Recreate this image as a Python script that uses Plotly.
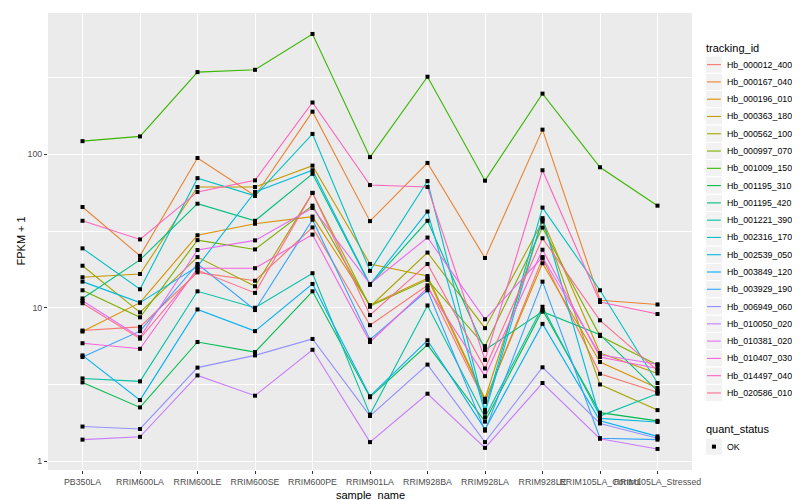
import plotly.graph_objects as go

samples = ["PB350LA", "RRIM600LA", "RRIM600LE", "RRIM600SE", "RRIM600PE", "RRIM901LA",
           "RRIM928BA", "RRIM928LA", "RRIM928LE", "RRIM105LA_Control", "RRIM105LA_Stressed"]

tracking_ids = ["Hb_000012_400", "Hb_000167_040", "Hb_000196_010", "Hb_000363_180", "Hb_000562_100",
                "Hb_000997_070", "Hb_001009_150", "Hb_001195_310", "Hb_001195_420", "Hb_001221_390",
                "Hb_002316_170", "Hb_002539_050", "Hb_003849_120", "Hb_003929_190", "Hb_006949_060",
                "Hb_010050_020", "Hb_010381_020", "Hb_010407_030", "Hb_014497_040", "Hb_020586_010"]

colors = ["#F8766D", "#EA8331", "#D89000", "#C09B00", "#A3A500", "#7CAE00", "#39B600", "#00BB4E",
          "#00BF7D", "#00C1A3", "#00BFC4", "#00BAE0", "#00B0F6", "#35A2FF", "#9590FF", "#C77CFF",
          "#E76BF3", "#FA62DB", "#FF62BC", "#FF6C90"]

# FPKM + 1 values per gene, one per sample
hb_000012_400 = [7.1, 7.5, 17.0, 15.0, 33.4, 7.7, 14.0, 2.43, 21.0, 3.71, 2.81]
hb_000167_040 = [45.4, 21.8, 94.7, 53.7, 190, 36.7, 88, 21.1, 145, 11.2, 10.5]
hb_000196_010 = [7.0, 10.8, 29.7, 35.3, 39.3, 10.4, 15.6, 2.49, 19.5, 4.43, 3.0]
hb_000363_180 = [15.8, 16.6, 61.3, 61.3, 84.5, 19.3, 16.1, 2.55, 37.5, 5.07, 3.73]
hb_000562_100 = [18.8, 9.33, 21.4, 13.8, 56.1, 10.15, 22.9, 7.36, 36.5, 3.16, 2.15]
hb_000997_070 = [13.0, 8.66, 27.6, 24.0, 46.3, 10.25, 15.2, 5.62, 33.3, 6.54, 4.24]
hb_001009_150 = [122, 131, 344, 356, 610, 96, 321, 67.4, 249, 82.4, 46.3]
hb_001195_310 = [3.26, 2.24, 5.98, 5.14, 12.8, 2.61, 5.73, 1.81, 9.66, 2.07, 1.83]
hb_001195_420 = [11.5, 20.5, 47.7, 36.9, 74.7, 14.1, 36.9, 5.30, 9.43, 6.67, 2.87]
hb_001221_390 = [3.46, 3.31, 12.8, 10.0, 16.8, 2.01, 10.35, 1.93, 10.15, 1.97, 2.75]
hb_002316_170 = [24.4, 13.2, 70, 53.7, 136, 17.4, 67, 2.15, 45, 13.0, 3.23]
hb_002539_050 = [14.8, 10.8, 18.6, 56.9, 78.8, 14.2, 42.4, 2.07, 38.4, 1.90, 1.80]
hb_003849_120 = [4.89, 2.50, 9.75, 7.04, 14.3, 2.65, 6.14, 1.61, 7.85, 1.83, 1.45]
hb_003929_190 = [4.77, 7.04, 19.3, 9.66, 37.5, 6.19, 13.0, 1.58, 14.8, 1.41, 1.38]
hb_006949_060 = [1.68, 1.62, 4.07, 4.89, 6.26, 1.97, 4.26, 1.33, 4.09, 1.76, 1.41]
hb_010050_020 = [1.38, 1.44, 3.62, 2.67, 5.32, 1.33, 2.75, 1.22, 3.23, 1.40, 1.20]
hb_010381_020 = [11.1, 6.42, 23.8, 27.5, 44.7, 14.3, 28.7, 8.41, 21.4, 4.94, 4.28]
hb_010407_030 = [5.87, 5.40, 18.1, 18.1, 30, 5.98, 13.5, 3.58, 23.9, 4.77, 4.02]
hb_014497_040 = [36.9, 27.9, 56.9, 67.7, 218, 63.1, 61.3, 4.57, 78.8, 10.9, 9.1]
hb_020586_010 = [10.7, 6.29, 17.6, 12.5, 56.1, 8.96, 19.3, 4.02, 28.4, 8.28, 3.9]

series_values = [hb_000012_400, hb_000167_040, hb_000196_010, hb_000363_180, hb_000562_100,
                 hb_000997_070, hb_001009_150, hb_001195_310, hb_001195_420, hb_001221_390,
                 hb_002316_170, hb_002539_050, hb_003849_120, hb_003929_190, hb_006949_060,
                 hb_010050_020, hb_010381_020, hb_010407_030, hb_014497_040, hb_020586_010]

quant_status = ["OK"]

y_ticks = [1, 10, 100]
y_tick_labels = ["1", "10", "100"]

FONT = "Liberation Sans, Arial, sans-serif"
W, H = 800, 500
ML, MR, MT, MB = 40, 116, 5, 38
PW, PH = W - ML - MR, H - MT - MB


def px(x):
    return (x - ML) / PW


def py(y):
    return (H - MB - y) / PH


fig = go.Figure()
for name, col, vals in zip(tracking_ids, colors, series_values):
    fig.add_trace(go.Scatter(x=samples, y=vals, mode="lines", name=name,
                             line=dict(color=col, width=1.1), showlegend=False))

all_x, all_y = [], []
for vals in series_values:
    all_x.extend(samples)
    all_y.extend(vals)
fig.add_trace(go.Scatter(x=all_x, y=all_y, mode="markers", name=quant_status[0],
                         marker=dict(symbol="square", size=4, color="black"),
                         showlegend=False))

# ---- manual ggplot-style legends ----
shapes, annotations = [], []
KEY = 17.28
key_left = 697.3
text_left = 716.5
title_y = 40
first_top = 48.0

annotations.append(dict(text="tracking_id", x=px(696), y=py(title_y), xref="paper", yref="paper",
                        xanchor="left", yanchor="middle", showarrow=False,
                        font=dict(size=11, color="black", family=FONT)))
for i, (name, col) in enumerate(zip(tracking_ids, colors)):
    top = first_top + i * KEY
    shapes.append(dict(type="rect", xref="paper", yref="paper", x0=px(key_left), x1=px(key_left + KEY),
                       y0=py(top), y1=py(top + KEY), fillcolor="#F2F2F2",
                       line=dict(color="white", width=1), layer="above"))
    cy = top + KEY / 2
    shapes.append(dict(type="line", xref="paper", yref="paper", x0=px(key_left + 1.7),
                       x1=px(key_left + KEY - 1.7), y0=py(cy), y1=py(cy),
                       line=dict(color=col, width=1.1), layer="above"))
    annotations.append(dict(text=name, x=px(text_left), y=py(cy), xref="paper", yref="paper",
                            xanchor="left", yanchor="middle", showarrow=False,
                            font=dict(size=8.8, color="black", family=FONT)))

q_title_y = 421
q_top = 430
annotations.append(dict(text="quant_status", x=px(696), y=py(q_title_y), xref="paper", yref="paper",
                        xanchor="left", yanchor="middle", showarrow=False,
                        font=dict(size=11, color="black", family=FONT)))
shapes.append(dict(type="rect", xref="paper", yref="paper", x0=px(key_left), x1=px(key_left + KEY),
                   y0=py(q_top), y1=py(q_top + KEY), fillcolor="#F2F2F2",
                   line=dict(color="white", width=1), layer="above"))
qc = q_top + KEY / 2
shapes.append(dict(type="rect", xref="paper", yref="paper", x0=px(key_left + KEY / 2 - 2),
                   x1=px(key_left + KEY / 2 + 2), y0=py(qc - 2), y1=py(qc + 2),
                   fillcolor="black", line=dict(width=0), layer="above"))
annotations.append(dict(text=quant_status[0], x=px(text_left), y=py(qc), xref="paper", yref="paper",
                        xanchor="left", yanchor="middle", showarrow=False,
                        font=dict(size=8.8, color="black", family=FONT)))

# axis titles
annotations.append(dict(text="sample_name", x=px(ML + PW / 2), y=py(487), xref="paper", yref="paper",
                        xanchor="center", yanchor="middle", showarrow=False,
                        font=dict(size=11, color="black", family=FONT)))
annotations.append(dict(text="FPKM + 1", x=px(12), y=0.5, xref="paper", yref="paper",
                        xanchor="center", yanchor="middle", showarrow=False, textangle=-90,
                        font=dict(size=11, color="black", family=FONT)))

fig.update_layout(
    width=W, height=H,
    margin=dict(l=ML, r=MR, t=MT, b=MB, autoexpand=False),
    paper_bgcolor="white", plot_bgcolor="#EBEBEB",
    font=dict(family=FONT, size=11, color="black"),
    showlegend=False,
    shapes=shapes, annotations=annotations,
)

fig.update_xaxes(
    type="category", range=[-0.6, 10.6], showgrid=True, gridcolor="white", gridwidth=1.1,
    ticks="outside", ticklen=3, tickcolor="#333333", tickwidth=1, tickangle=0,
    tickfont=dict(size=8.8, color="#4D4D4D"), showline=False, zeroline=False, automargin=False,
)
fig.update_yaxes(
    type="log", range=[-0.058, 2.922], tickmode="array", tickvals=y_ticks, ticktext=y_tick_labels,
    showgrid=True, gridcolor="white", gridwidth=1.1,
    minor=dict(tickmode="array", tickvals=[10 ** 0.5, 10 ** 1.5, 10 ** 2.5], showgrid=True,
               gridcolor="white", gridwidth=0.55, ticks=""),
    ticks="outside", ticklen=3, tickcolor="#333333", tickwidth=1,
    tickfont=dict(size=8.8, color="#4D4D4D"), showline=False, zeroline=False, automargin=False,
)

fig.write_html("out.html")
